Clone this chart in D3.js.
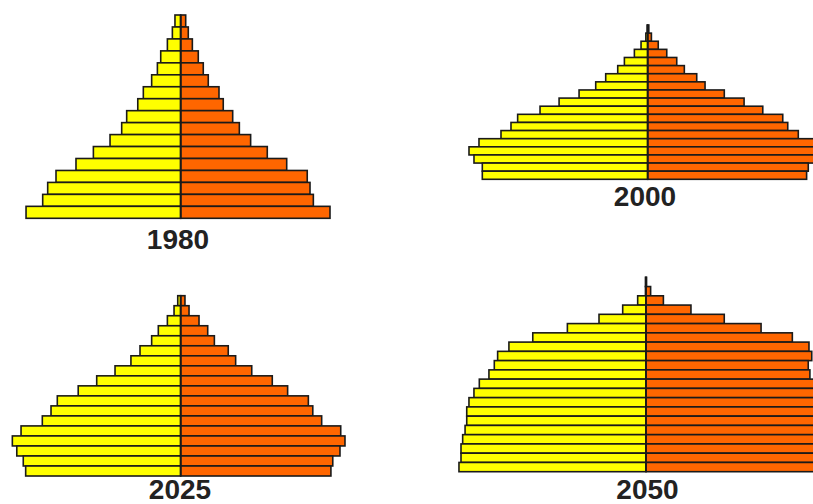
<!DOCTYPE html>
<html>
<head>
<meta charset="utf-8">
<script src="https://cdn.jsdelivr.net/npm/d3@7"></script>
<style>
  body { margin: 0; background: #fff; }
  svg { display: block; }
</style>
</head>
<body>
<script>
// bar lengths, oldest age group first (top row)
const years = ["1980", "2000", "2025", "2050"];

const males1980 = [3.1, 4.5, 7.2, 10.8, 12.6, 15.7, 20.2, 23.2, 29.2, 31.9, 38.2, 47.2, 56.6, 67.4, 71.9, 74.6, 83.6];
const females1980 = [2.7, 4.1, 6.3, 9.5, 12.2, 14.9, 20.7, 23.0, 28.1, 31.7, 37.8, 46.8, 57.3, 68.4, 69.9, 71.7, 80.7];

const males2000 = [0.3, 1.0, 3.6, 7.2, 12.6, 16.2, 22.7, 28.1, 37.1, 47.9, 58.2, 70.3, 73.9, 79.3, 91.2, 96.6, 93.9, 89.4, 89.4];
const females2000 = [0.6, 2.0, 5.7, 10.3, 15.7, 19.8, 26.5, 31.0, 41.4, 52.1, 62.2, 73.0, 75.7, 81.4, 91.9, 95.1, 91.9, 86.8, 85.9];

const males2025 = [1.6, 3.6, 7.2, 12.1, 15.7, 22.0, 26.9, 35.5, 45.4, 55.4, 66.7, 70.1, 74.8, 86.3, 91.0, 88.6, 85.1, 83.8];
const females2025 = [2.3, 4.5, 9.9, 14.6, 18.2, 25.7, 29.7, 38.4, 49.5, 57.8, 69.0, 71.4, 76.2, 86.5, 88.8, 86.1, 82.2, 81.2];

const males2050 = [0.3, 0.3, 4.5, 12.6, 25.4, 42.5, 61.2, 74.1, 80.2, 82.0, 84.9, 90.1, 93.0, 95.7, 96.9, 96.9, 97.8, 99.1, 100.0, 100.0, 101.1];
const females2050 = [0.3, 2.5, 9.4, 24.3, 42.3, 62.2, 79.1, 88.1, 89.6, 87.7, 88.6, 93.0, 95.1, 97.3, 98.4, 98.4, 98.9, 100.0, 100.5, 100.5, 101.6];

const series = {
  "1980": [males1980, females1980],
  "2000": [males2000, females2000],
  "2025": [males2025, females2025],
  "2050": [males2050, females2050]
};

// where each pyramid sits on the page
const layout = {
  "1980": { cx: 180.7, top: 15, bottom: 218.3, labelX: 178, labelY: 249 },
  "2000": { cx: 647.7, top: 25, bottom: 179.3, labelX: 645, labelY: 206 },
  "2025": { cx: 180.7, top: 295.7, bottom: 476, labelX: 180, labelY: 499 },
  "2050": { cx: 646, top: 277.3, bottom: 471.7, labelX: 647.5, labelY: 499 }
};

const width = 813, height = 504;

const svg = d3.select("body").append("svg")
    .attr("width", width)
    .attr("height", height)
    .attr("viewBox", [0, 0, width, height]);

const x = d3.scaleLinear().domain([0, 100]).range([0, 185]);

years.forEach(year => {
  const [m, f] = series[year];
  const L = layout[year];
  const y = d3.scaleBand().domain(d3.range(m.length)).range([L.top, L.bottom]);

  const g = svg.append("g");

  g.selectAll("rect.m")
    .data(m)
    .join("rect")
    .attr("class", "m")
    .attr("x", d => L.cx - x(d))
    .attr("y", (d, i) => y(i))
    .attr("width", d => x(d))
    .attr("height", y.bandwidth())
    .attr("fill", "#ffff00")
    .attr("stroke", "#1a1a1a")
    .attr("stroke-width", 1.6);

  g.selectAll("rect.f")
    .data(f)
    .join("rect")
    .attr("class", "f")
    .attr("x", L.cx)
    .attr("y", (d, i) => y(i))
    .attr("width", d => x(d))
    .attr("height", y.bandwidth())
    .attr("fill", "#ff6600")
    .attr("stroke", "#1a1a1a")
    .attr("stroke-width", 1.6);

  g.append("line")
    .attr("x1", L.cx).attr("x2", L.cx)
    .attr("y1", L.top).attr("y2", L.bottom)
    .attr("stroke", "#1a1a1a")
    .attr("stroke-width", 1.8);

  g.append("text")
    .attr("x", L.labelX)
    .attr("y", L.labelY)
    .attr("text-anchor", "middle")
    .attr("font-family", "'Liberation Sans', Arial, sans-serif")
    .attr("font-weight", "bold")
    .attr("font-size", 28)
    .attr("fill", "#222")
    .text(year);
});
</script>
</body>
</html>
